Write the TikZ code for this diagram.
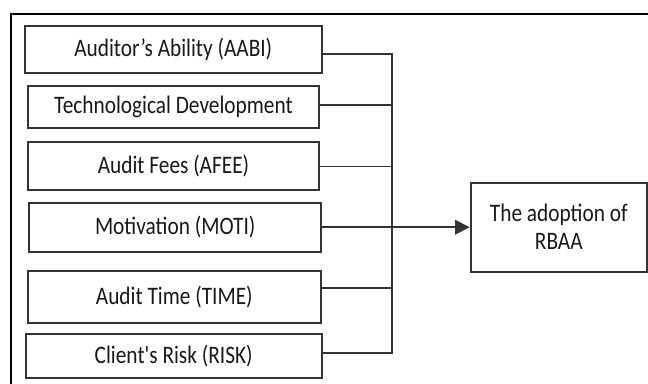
\documentclass[tikz,border=0pt]{standalone}
\usepackage{fontspec}
\usepackage{graphicx}
\setmainfont{Carlito}
\usetikzlibrary{arrows.meta}
\newcommand\talltext[1]{\scalebox{1}[1.18]{#1}}
\begin{document}
\begin{tikzpicture}[x=0.75pt,y=-0.75pt,
  box/.style={draw=black!80, line width=1.5pt, inner sep=0pt, font=\fontsize{16pt}{21pt}\selectfont, text=black!90, align=center},
  conn/.style={draw=black!80, line width=1.3pt},
  arr/.style={conn, -{Triangle[length=11pt,width=11pt]}}]
\useasboundingbox (0,0) rectangle (648,384);
\fill[white] (0,0) rectangle (648,384);
% outer frame (top and left edges visible)
\draw[line width=2.2pt, black] (11,384) -- (11,14) -- (650,14);
\node[box, minimum width=222.5pt, minimum height=35.5pt] (b1) at (173.3,49.7) {\talltext{Auditor’s Ability (AABI)}};
\node[box, minimum width=218.7pt, minimum height=31.5pt] (b2) at (173.5,106.7) {\talltext{Technological Development}};
\node[box, minimum width=218.7pt, minimum height=36pt] (b3) at (173.5,166.3) {\talltext{Audit Fees (AFEE)}};
\node[box, minimum width=218.8pt, minimum height=36.75pt] (b4) at (175.2,227.2) {\talltext{Motivation (MOTI)}};
\node[box, minimum width=220pt, minimum height=38.8pt] (b5) at (174.3,296.8) {\talltext{Audit Time (TIME)}};
\node[box, minimum width=222pt, minimum height=32.8pt] (b6) at (173.7,355.8) {\talltext{Client\textquotesingle s Risk (RISK)}};
\node[box, minimum width=132.2pt, minimum height=66.75pt] (r) at (558.8,227.2) {\talltext{The adoption of}\\\talltext{RBAA}};
\coordinate (j1) at (392,54);
\coordinate (j2) at (392,105);
\coordinate (j3) at (392,166.5);
\coordinate (j4) at (392,227.2);
\coordinate (j5) at (392,288);
\coordinate (j6) at (392,353.3);
\draw[conn] (b1.east |- j1) -- (j1) -- (j6) -- (b6.east |- j6);
\draw[conn] (b2.east |- j2) -- (j2);
\draw[conn] (b3.east |- j3) -- (j3);
\draw[conn] (b4.east) -- (j4);
\draw[conn] (b5.east |- j5) -- (j5);
\draw[arr] (j4) -- (r.west);
\end{tikzpicture}
\end{document}
